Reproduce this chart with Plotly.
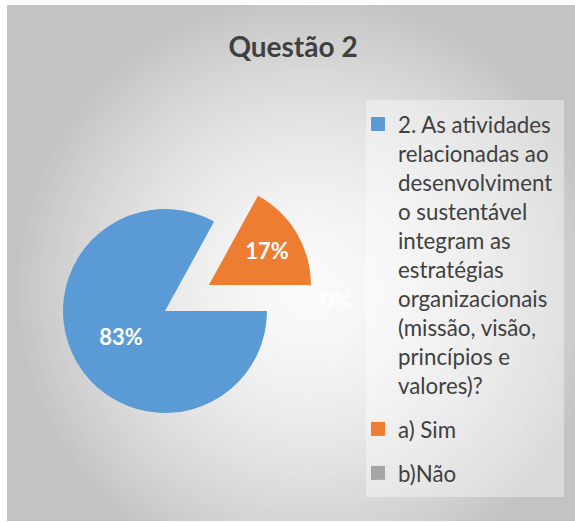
import plotly.graph_objects as go

# ---- data ----
categories = [
    "2. As atividades<br>relacionadas ao<br>desenvolviment<br>o sustentável<br>integram as<br>estratégias<br>organizacionais<br>(missão, visão,<br>princípios e<br>valores)?",
    "a) Sim",
    "b)Não",
]
values = [83, 17, 0]
colors = ["#5B9BD5", "#ED7D31", "#A5A5A5"]
pulls = [0, 0.5, 0]
title_text = "Questão 2"

W, H = 575, 522

# ---- background radial gradient (concentric circles) ----
shapes = []
shapes.append(dict(type="rect", xref="paper", yref="paper", x0=7 / W, x1=1, y0=1 - 521 / H, y1=1 - 5 / H,
                   fillcolor="rgb(195,195,195)", line_width=0, layer="below"))
cx, cy = 310, 290
dmax = 300
steps = 60
for i in range(steps):
    d = dmax * (1 - i / steps)
    t = d / dmax
    v = int(round(250 - 55 * t ** 1.6))
    shapes.append(dict(type="circle", xref="paper", yref="paper",
                       x0=(cx - d) / W, x1=(cx + d) / W, y0=1 - (cy + d) / H, y1=1 - (cy - d) / H,
                       fillcolor=f"rgb({v},{v},{v})", line_width=0, layer="below"))
shapes.append(dict(type="rect", xref="paper", yref="paper", x0=0, x1=7 / W, y0=0, y1=1,
                   fillcolor="white", line_width=0, layer="below"))
shapes.append(dict(type="rect", xref="paper", yref="paper", x0=0, x1=1, y0=1 - 5 / H, y1=1,
                   fillcolor="white", line_width=0, layer="below"))
shapes.append(dict(type="rect", xref="paper", yref="paper", x0=0, x1=1, y0=0, y1=1 - 521 / H,
                   fillcolor="white", line_width=0, layer="below"))
# legend box
shapes.append(dict(type="rect", xref="paper", yref="paper", x0=366 / W, x1=564 / W, y0=1 - 497 / H, y1=1 - 100 / H,
                   fillcolor="rgba(255,255,255,0.38)", line_width=0, layer="below"))

fig = go.Figure()
fig.add_trace(go.Pie(
    labels=categories,
    values=values,
    sort=False,
    direction="clockwise",
    rotation=90,
    pull=pulls,
    marker=dict(colors=colors, line=dict(width=0)),
    textinfo="percent",
    textposition="inside",
    insidetextorientation="horizontal",
    textfont=dict(family="Lato", size=22, color="white", weight="bold"),
    hoverinfo="skip",
    showlegend=False,
    domain=dict(x=[12 / W, 318 / W], y=[1 - 464 / H, 1 - 158 / H]),
))

# legend entries (one per category)
for i, (cat, col) in enumerate(zip(categories, colors)):
    fig.add_trace(go.Scatter(
        x=[None], y=[None], mode="markers", name=cat,
        marker=dict(symbol="square", size=14, color=col, line=dict(width=0)),
        legendgroup=f"g{i}", showlegend=True, hoverinfo="skip",
    ))

# faint label of the zero slice
total = sum(values)
zero_label = f"{round(100 * values[2] / total)}%"

fig.update_layout(
    width=W, height=H,
    margin=dict(l=0, r=0, t=0, b=0),
    paper_bgcolor="white",
    plot_bgcolor="rgba(0,0,0,0)",
    shapes=shapes,
    xaxis=dict(visible=False),
    yaxis=dict(visible=False),
    annotations=[dict(text=zero_label, x=336 / W, y=1 - 300 / H, xref="paper", yref="paper",
                      showarrow=False, font=dict(family="Lato", size=22, color="rgba(255,255,255,0.9)", weight="bold"))],
    title=dict(text=title_text, x=293 / W, xanchor="center", xref="paper",
               y=1 - 47 / H, yref="container", yanchor="middle",
               font=dict(family="Lato", size=28, color="#404040", weight="bold")),
    legend=dict(x=358 / W, xanchor="left", y=1 - 103 / H, yanchor="top",
                bgcolor="rgba(0,0,0,0)", borderwidth=0, valign="top",
                font=dict(family="Lato", size=22.3, color="#404040"),
                traceorder="grouped", tracegroupgap=12),
    showlegend=True,
)

fig.write_html("out.html")
